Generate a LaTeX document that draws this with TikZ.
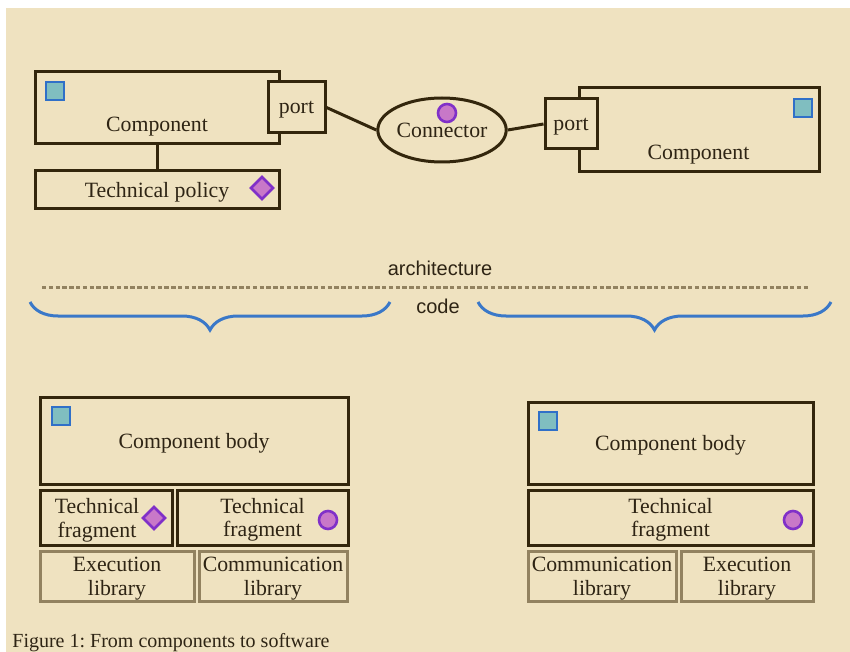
\documentclass[tikz,border=0pt]{standalone}
\usepackage{fontspec}
\setmainfont{Liberation Serif}
\newfontfamily\archsans{Liberation Sans}
\usepackage{tikz}
\usetikzlibrary{shapes.geometric,decorations.pathreplacing}

\definecolor{bgbeige}{HTML}{EFE2C0}
\definecolor{darkline}{HTML}{33260C}
\definecolor{textbrown}{HTML}{2E2414}
\definecolor{libgray}{HTML}{928260}
\definecolor{braceblue}{HTML}{3A78C8}
\definecolor{sqfill}{HTML}{80BEC0}
\definecolor{sqline}{HTML}{3070C8}
\definecolor{purfill}{HTML}{C878C8}
\definecolor{purline}{HTML}{8030C8}

\begin{document}
\frenchspacing
\begin{tikzpicture}[x=0.5pt, y=-0.5pt,
    every node/.style={text=textbrown, font=\fontsize{10.9}{11.8}\selectfont, inner sep=0pt, text depth=0pt},
    box/.style={draw=darkline, line width=1.5pt, fill=bgbeige, align=center},
    libbox/.style={draw=libgray, line width=1.5pt, align=center},
    conn/.style={ellipse, draw=darkline, line width=1.5pt, fill=bgbeige},
    link/.style={draw=darkline, line width=1.5pt},
    compmark/.style={draw=sqline, fill=sqfill, line width=1.3pt, minimum size=9pt},
    policymark/.style={diamond, draw=purline, fill=purfill, line width=1.3pt, minimum size=11.5pt},
    connmark/.style={circle, draw=purline, fill=purfill, line width=1.3pt, minimum size=9pt},
    codebrace/.style={draw=braceblue, line width=1.5pt, decorate, decoration={brace, mirror, amplitude=14pt}}]
    \useasboundingbox (0,0) rectangle (850,652);
    \fill[bgbeige] (6,8) rectangle (850,652);

    % architecture level
    \node[box, minimum width=122pt, minimum height=36pt] (comp1) at (157,108) {};
    \node (comp1txt) at (157,124) {Component};
    \node[compmark] (sq1) at (55,91) {};
    \node[box, minimum width=28.5pt, minimum height=25.5pt] (port1) at (296.5,107.5) {port};
    \node[box, minimum width=122pt, minimum height=19pt] (policy) at (157,190) {Technical policy};
    \node[policymark] (dia1) at (262,188) {};

    \node[conn, minimum width=60pt, minimum height=32pt] (connector) at (442,130) {Connector};
    \node[connmark] (circ1) at (447,113) {};

    \node[box, minimum width=120pt, minimum height=42pt] (comp2) at (699,130) {};
    \node (comp2txt) at (698.5,152) {Component};
    \node[compmark] (sq2) at (803,108) {};
    \node[box, minimum width=26pt, minimum height=25pt] (port2) at (571,124) {port};

    \draw[link] (comp1) -- (policy);
    \draw[link] (port1.east) -- (connector.west);
    \draw[link] (connector.east) -- (port2.west);

    % separation
    \node[font=\archsans\fontsize{10}{12}\selectfont] (archlbl) at (440,268) {architecture};
    \node[font=\archsans\fontsize{10}{12}\selectfont] (codelbl) at (438,306) {code};
    \coordinate (sepL) at (42,287);
    \coordinate (sepR) at (809,287);
    \draw[libgray, line width=1.5pt, dash pattern=on 2.2pt off 1.2pt] (sepL) -- (sepR);
    \coordinate (braceAL) at (30,302);
    \coordinate (braceAR) at (390,302);
    \coordinate (braceBL) at (478,302);
    \coordinate (braceBR) at (831,302);
    \draw[codebrace] (braceAL) -- (braceAR);
    \draw[codebrace] (braceBL) -- (braceBR);

    % code level, left
    \node[box, minimum width=154pt, minimum height=43.5pt] (body1) at (194,440.5) {Component body};
    \node[compmark] (sq3) at (61,416) {};
    \node[box, minimum width=66pt, minimum height=27.5pt] (fragA) at (106,517.5) {};
    \node[align=center] (fragAtxt) at (97,518) {Technical\\fragment};
    \node[policymark] (dia2) at (154,518) {};
    \node[box, minimum width=85.5pt, minimum height=27.5pt] (fragB) at (262.5,517.5) {Technical\\fragment};
    \node[connmark] (circ2) at (328,520) {};
    \node[libbox, minimum width=77pt, minimum height=25pt] (exec1) at (117,576) {Execution\\library};
    \node[libbox, minimum width=74pt, minimum height=25pt] (comm1) at (273,576) {Communication\\library};

    % code level, right
    \node[box, minimum width=142.5pt, minimum height=41pt] (body2) at (670.5,443) {Component body};
    \node[compmark] (sq4) at (548,421) {};
    \node[box, minimum width=142.5pt, minimum height=27.5pt] (fragC) at (670.5,517.5) {Technical\\fragment};
    \node[connmark] (circ3) at (793,520) {};
    \node[libbox, minimum width=74pt, minimum height=25pt] (comm2) at (602,576) {Communication\\library};
    \node[libbox, minimum width=66pt, minimum height=25pt] (exec2) at (747,576) {Execution\\library};

    \node[anchor=west, font=\fontsize{10}{12}\selectfont] (caption) at (12,640) {Figure 1: From components to software};
\end{tikzpicture}
\end{document}
